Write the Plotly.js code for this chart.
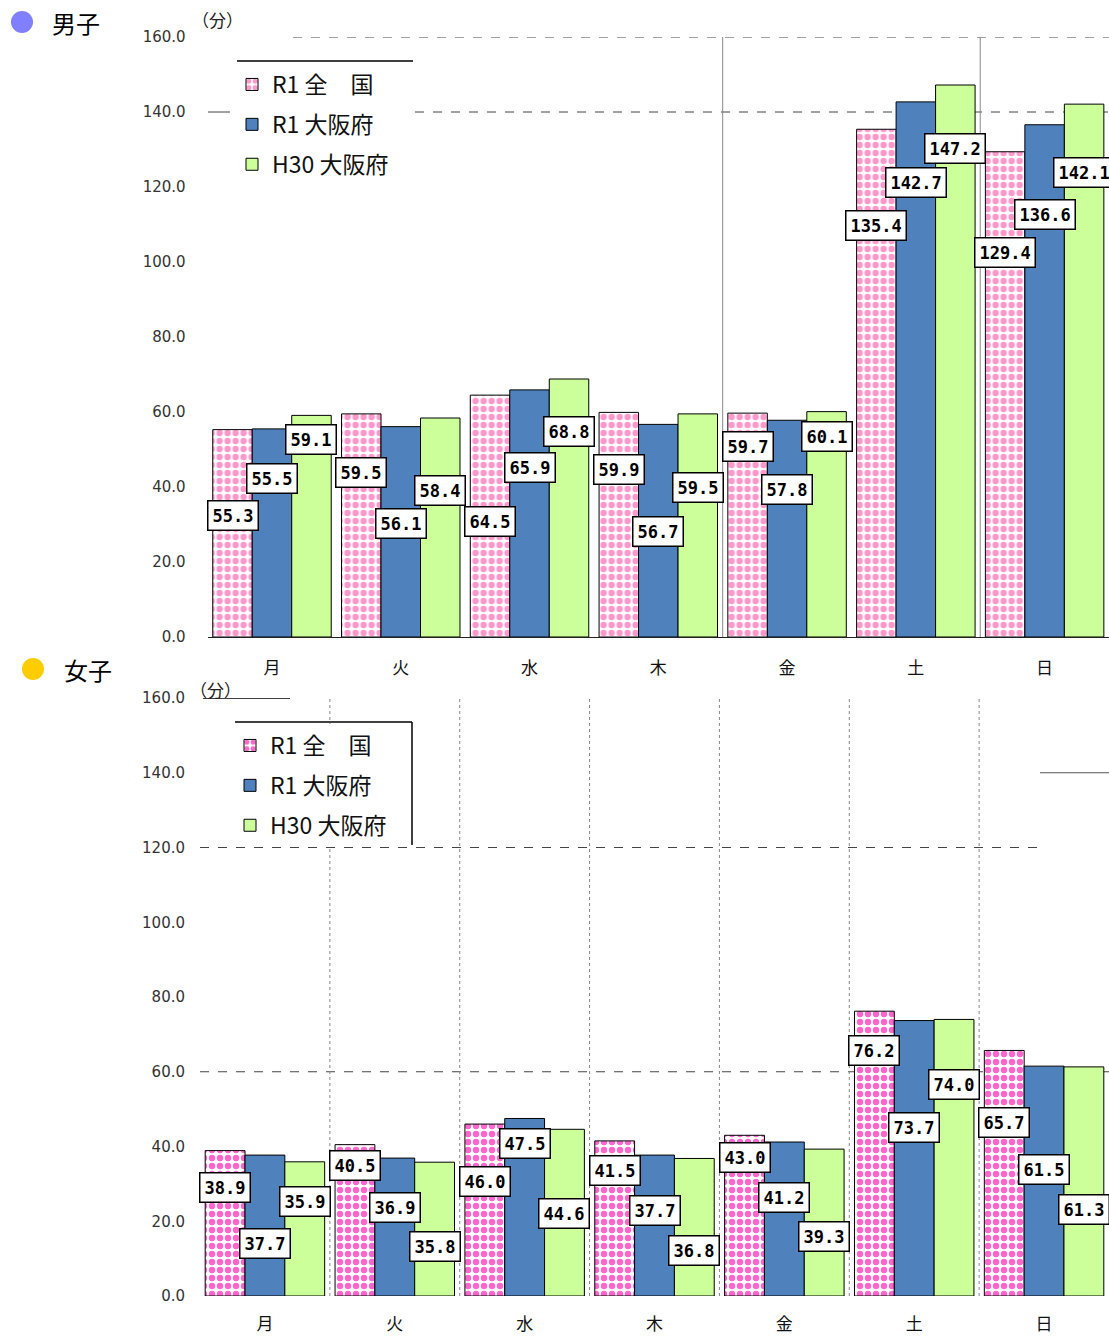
<!DOCTYPE html>
<html><head><meta charset="utf-8">
<script src="https://cdn.plot.ly/plotly-3.0.1.min.js"></script>
<style>html,body{margin:0;padding:0;background:#fff}#chart{width:1109px;height:1336px}</style>
</head><body><div id="chart"></div>
<script>
// ---- data ----
const days = ['月','火','水','木','金','土','日'];
const seriesNames = ['R1 全　国','R1 大阪府','H30 大阪府'];
const boysR1Zenkoku = [55.3, 59.5, 64.5, 59.9, 59.7, 135.4, 129.4];
const boysR1Osaka   = [55.5, 56.1, 65.9, 56.7, 57.8, 142.7, 136.6];
const boysH30Osaka  = [59.1, 58.4, 68.8, 59.5, 60.1, 147.2, 142.1];
const girlsR1Zenkoku = [38.9, 40.5, 46.0, 41.5, 43.0, 76.2, 65.7];
const girlsR1Osaka   = [37.7, 36.9, 47.5, 37.7, 41.2, 73.7, 61.5];
const girlsH30Osaka  = [35.9, 35.8, 44.6, 36.8, 39.3, 74.0, 61.3];
const yTicks = [0, 20, 40, 60, 80, 100, 120, 140, 160];
const unitLabel = '（分）';
const panelTitles = ['男子', '女子'];

// ---- layout-only helpers (label drop below bar top, in px) ----
const boysLabelDrop  = [[86,59,126,57,33,96,101],[50,97,78,107,69,81,90],[24,72,52,74,25,63,68]];
const girlsLabelDrop = [[37,21,57,30,22,39,72],[88,49,25,55,55,107,103],[40,84,84,92,87,65,143]];

const W = 1109, H = 1336;
const px = v => v / W, py = v => 1 - v / H;
const BARGAP = 0.08;
const bw = (1 - BARGAP) / 3;
const idx = days.map((d, i) => i);

const cjk = 'Noto Sans CJK JP, sans-serif';
const colors = {blue: '#4f81bd', green: '#ccff99'};

function makeTraces(vals, xa, ya, leg, pink, tag) {
  return vals.map((v, s) => {
    const m = {line: {color: '#000', width: 1}};
    if (s === 0) {
      m.color = '#ffffff';
      m.pattern = {shape: '.', fgcolor: pink, bgcolor: '#ffffff', size: 8, solidity: 0.5, fillmode: 'replace'};
    } else {
      m.color = s === 1 ? colors.blue : colors.green;
    }
    return {type: 'bar', x: idx, y: v, name: seriesNames[s], xaxis: xa, yaxis: ya,
      legend: leg, legendgroup: tag + s, marker: m, hoverinfo: 'skip'};
  });
}
const boysVals = [boysR1Zenkoku, boysR1Osaka, boysH30Osaka];
const girlsVals = [girlsR1Zenkoku, girlsR1Osaka, girlsH30Osaka];
const data = [
  ...makeTraces(boysVals, 'x', 'y', 'legend', '#ff99cc', 'b'),
  ...makeTraces(girlsVals, 'x2', 'y2', 'legend2', '#ff66cc', 'g')
];

const annotations = [];
function addLabels(vals, drops, xr, yr) {
  vals.forEach((arr, s) => arr.forEach((v, i) => {
    annotations.push({x: i + (s - 1) * bw, y: v, xref: xr, yref: yr, text: v.toFixed(1),
      showarrow: false, xanchor: 'center', yanchor: 'middle', yshift: -drops[s][i],
      bgcolor: '#ffffff', bordercolor: '#000', borderwidth: 1.5, borderpad: 4,
      font: {family: 'DejaVu Sans Mono, monospace', size: 17, color: '#000', weight: 'bold'}});
  }));
}
addLabels(boysVals, boysLabelDrop, 'x', 'y');
addLabels(girlsVals, girlsLabelDrop, 'x2', 'y2');
annotations.push(
  {x: px(50), y: py(22), xref: 'paper', yref: 'paper', xanchor: 'left', yanchor: 'middle', showarrow: false,
   text: panelTitles[0], font: {family: cjk, size: 24, color: '#000'}},
  {x: px(62), y: py(669), xref: 'paper', yref: 'paper', xanchor: 'left', yanchor: 'middle', showarrow: false,
   text: panelTitles[1], font: {family: cjk, size: 24, color: '#000'}},
  {x: px(190), y: py(20), xref: 'paper', yref: 'paper', xanchor: 'left', yanchor: 'middle', showarrow: false,
   text: unitLabel, font: {family: cjk, size: 17, color: '#222'}},
  {x: px(188), y: py(689), xref: 'paper', yref: 'paper', xanchor: 'left', yanchor: 'middle', showarrow: false,
   text: unitLabel, font: {family: cjk, size: 17, color: '#222'}}
);

const shapes = [
  {type: 'circle', xref: 'paper', yref: 'paper', x0: px(11), x1: px(33), y0: py(33), y1: py(11), fillcolor: '#8080ff', line: {width: 0}},
  {type: 'circle', xref: 'paper', yref: 'paper', x0: px(22), x1: px(44), y0: py(680), y1: py(658), fillcolor: '#ffcc00', line: {width: 0}},
  // boys grid
  {type: 'line', xref: 'paper', yref: 'y', x0: px(293), x1: px(1109), y0: 160, y1: 160, line: {color: '#444', width: 1, dash: 'dash'}, layer: 'below'},
  {type: 'line', xref: 'paper', yref: 'y', x0: px(208), x1: px(230), y0: 140, y1: 140, line: {color: '#444', width: 1}, layer: 'below'},
  {type: 'line', xref: 'paper', yref: 'y', x0: px(415), x1: px(1109), y0: 140, y1: 140, line: {color: '#444', width: 1, dash: 'dash'}, layer: 'below'},
  {type: 'line', xref: 'x', yref: 'y', x0: 3.5, x1: 3.5, y0: 0, y1: 160, line: {color: '#888', width: 1}, layer: 'below'},
  {type: 'line', xref: 'x', yref: 'y', x0: 5.5, x1: 5.5, y0: 0, y1: 160, line: {color: '#888', width: 1}, layer: 'below'},
  {type: 'line', xref: 'paper', yref: 'paper', x0: px(237), x1: px(413), y0: py(61), y1: py(61), line: {color: '#000', width: 1.5}},
  // girls grid
  {type: 'line', xref: 'paper', yref: 'y2', x0: px(200), x1: px(1040), y0: 120, y1: 120, line: {color: '#444', width: 1, dash: 'dash'}, layer: 'below'},
  {type: 'line', xref: 'paper', yref: 'y2', x0: px(200), x1: px(1109), y0: 60, y1: 60, line: {color: '#444', width: 1, dash: 'dash'}, layer: 'below'},
  {type: 'line', xref: 'paper', yref: 'y2', x0: px(1040), x1: px(1109), y0: 140, y1: 140, line: {color: '#555', width: 1}, layer: 'below'},
  {type: 'line', xref: 'paper', yref: 'y2', x0: px(203), x1: px(290), y0: 160, y1: 160, line: {color: '#000', width: 1.5}, layer: 'below'},
  {type: 'line', xref: 'paper', yref: 'paper', x0: px(235), x1: px(412), y0: py(722), y1: py(722), line: {color: '#000', width: 1.5}},
  {type: 'line', xref: 'paper', yref: 'paper', x0: px(412), x1: px(412), y0: py(722), y1: py(845), line: {color: '#000', width: 1.5}}
];
[0.5, 1.5, 2.5, 3.5, 4.5, 5.5].forEach(xv => shapes.push(
  {type: 'line', xref: 'x2', yref: 'y2', x0: xv, x1: xv, y0: 0, y1: 160, line: {color: '#888', width: 1, dash: 'dot'}, layer: 'below'}));

const yCommon = {range: [0, 160], tickvals: yTicks, tickformat: '.1f', showgrid: false, zeroline: false,
  ticks: '', tickfont: {family: 'DejaVu Sans, sans-serif', size: 15, color: '#333'}, fixedrange: true};
const xCommon = {range: [-0.5, 6.5], tickvals: idx, ticktext: days, showgrid: false, zeroline: false,
  ticks: '', tickfont: {family: cjk, size: 17, color: '#111'}, fixedrange: true, ticklabelstandoff: 16};
const legCommon = {xanchor: 'left', yanchor: 'top', bgcolor: '#ffffff', borderwidth: 0,
  font: {family: cjk, size: 23, color: '#111'}, tracegroupgap: 7, itemwidth: 30, traceorder: 'grouped'};

const layout = {
  width: W, height: H, margin: {l: 0, r: 0, t: 0, b: 0},
  paper_bgcolor: '#fff', plot_bgcolor: 'rgba(0,0,0,0)',
  barmode: 'group', bargap: BARGAP, bargroupgap: 0,
  xaxis: Object.assign({}, xCommon, {domain: [px(207.6), px(1109)], anchor: 'y', showline: true, linecolor: '#222', linewidth: 1}),
  yaxis: Object.assign({}, yCommon, {domain: [py(637), py(37)], anchor: 'x', ticklabelstandoff: 21}),
  xaxis2: Object.assign({}, xCommon, {domain: [px(200), px(1109)], anchor: 'y2', showline: false}),
  yaxis2: Object.assign({}, yCommon, {domain: [py(1296), py(698)], anchor: 'x2', ticklabelstandoff: 14}),
  legend: Object.assign({}, legCommon, {x: px(232), y: py(63)}),
  legend2: Object.assign({}, legCommon, {x: px(230), y: py(724)}),
  showlegend: true,
  annotations: annotations,
  shapes: shapes
};
Plotly.newPlot('chart', data, layout, {displayModeBar: false, staticPlot: true});
</script></body></html>
